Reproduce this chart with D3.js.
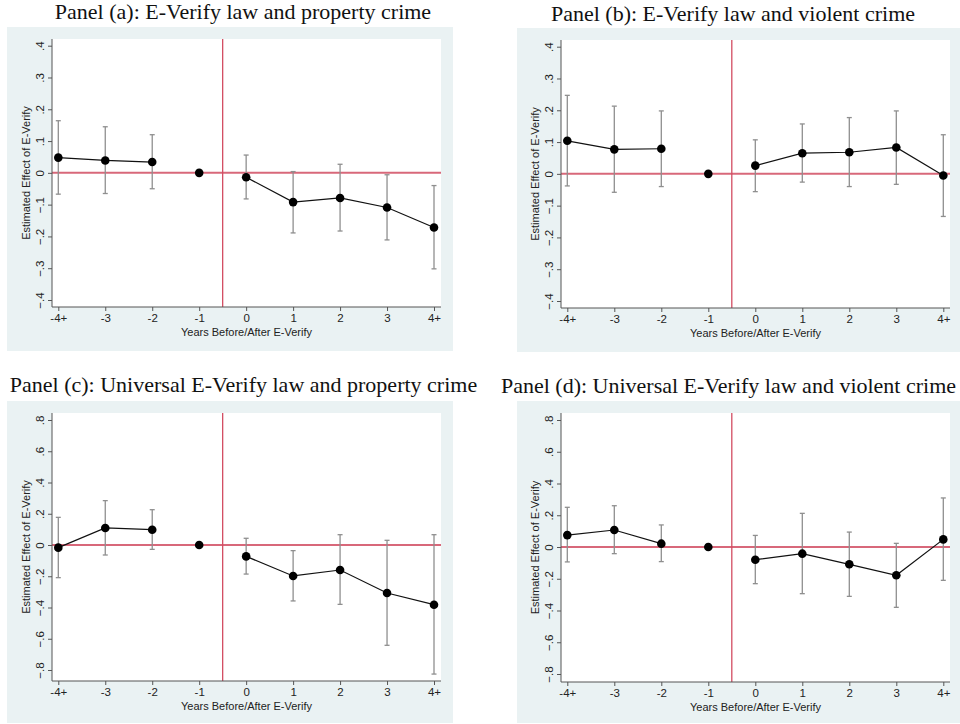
<!DOCTYPE html>
<html>
<head>
<meta charset="utf-8">
<script src="https://cdn.jsdelivr.net/npm/d3@7"></script>
<style>
  html, body { margin: 0; padding: 0; background: #fff; }
  svg { display: block; }
</style>
</head>
<body>
<div id="chart"></div>
<script>
// event-time categories
const categories = ['-4+', '-3', '-2', '-1', '0', '1', '2', '3', '4+'];
const yTicksSmall = [-0.4, -0.3, -0.2, -0.1, 0, 0.1, 0.2, 0.3, 0.4];
const yTicksLarge = [-0.8, -0.6, -0.4, -0.2, 0, 0.2, 0.4, 0.6, 0.8];

// Panel (a): E-Verify law and property crime
const estA   = [0.048, 0.039, 0.034, 0, -0.014, -0.092, -0.079, -0.109, -0.172];
const lowerA = [-0.067, -0.065, -0.050, null, -0.082, -0.189, -0.183, -0.211, -0.302];
const upperA = [0.164, 0.145, 0.120, null, 0.056, 0.004, 0.027, -0.006, -0.040];

// Panel (b): E-Verify law and violent crime
const estB   = [0.104, 0.077, 0.079, 0, 0.026, 0.065, 0.068, 0.083, -0.005];
const lowerB = [-0.038, -0.058, -0.040, null, -0.056, -0.026, -0.040, -0.033, -0.134];
const upperB = [0.247, 0.213, 0.198, null, 0.107, 0.157, 0.177, 0.198, 0.123];

// Panel (c): Universal E-Verify law and property crime
const estC   = [-0.017, 0.109, 0.098, 0, -0.073, -0.198, -0.160, -0.307, -0.382];
const lowerC = [-0.209, -0.064, -0.028, null, -0.186, -0.358, -0.380, -0.642, -0.826];
const upperC = [0.177, 0.284, 0.226, null, 0.043, -0.036, 0.066, 0.030, 0.066];

// Panel (d): Universal E-Verify law and violent crime
const estD   = [0.075, 0.107, 0.021, 0, -0.080, -0.042, -0.109, -0.178, 0.048];
const lowerD = [-0.094, -0.042, -0.092, null, -0.231, -0.294, -0.311, -0.380, -0.210];
const upperD = [0.250, 0.260, 0.139, null, 0.073, 0.212, 0.094, 0.023, 0.309];

const titles = [
    'Panel (a): E-Verify law and property crime',
    'Panel (b): E-Verify law and violent crime',
    'Panel (c): Universal E-Verify law and property crime',
    'Panel (d): Universal E-Verify law and violent crime'
];

const width = 960;
const height = 724;

const svg = d3.select('#chart')
    .append('svg')
    .attr('width', width)
    .attr('height', height);

// layout of each panel in pixels
const panels = [
    { title: titles[0], est: estA, lo: lowerA, hi: upperA, ticks: yTicksSmall, dom: [-0.4, 0.4],
      bg: [7, 27, 453, 351], plot: [52, 39, 441, 307], xr: [58.3, 434], yr: [300, 45.7], tx: 243, ty: 19 },
    { title: titles[1], est: estB, lo: lowerB, hi: upperB, ticks: yTicksSmall, dom: [-0.4, 0.4],
      bg: [517, 28, 960, 352], plot: [561, 40, 950, 308], xr: [567.3, 943.3], yr: [301, 46.7], tx: 733, ty: 21 },
    { title: titles[2], est: estC, lo: lowerC, hi: upperC, ticks: yTicksLarge, dom: [-0.8, 0.8],
      bg: [7, 401, 453, 723], plot: [52, 413, 441, 681], xr: [58.3, 434], yr: [670, 420], tx: 243.5, ty: 392 },
    { title: titles[3], est: estD, lo: lowerD, hi: upperD, ticks: yTicksLarge, dom: [-0.8, 0.8],
      bg: [517, 401, 960, 723], plot: [561, 413, 950, 682], xr: [567.3, 943.3], yr: [674, 420], tx: 728.5, ty: 393 }
];

const fmt = d => d === 0 ? '0' : d3.format('.1f')(d).replace('0.', '.');
const sans = '"Liberation Sans", Arial, sans-serif';

panels.forEach(p => drawPanel(p));

function drawPanel(p) {
    const g = svg.append('g');

    g.append('text')
        .attr('x', p.tx)
        .attr('y', p.ty)
        .attr('text-anchor', 'middle')
        .attr('font-family', '"Liberation Serif", "Times New Roman", serif')
        .attr('font-size', '22px')
        .attr('fill', '#111')
        .text(p.title);

    g.append('rect')
        .attr('x', p.bg[0]).attr('y', p.bg[1])
        .attr('width', p.bg[2] - p.bg[0]).attr('height', p.bg[3] - p.bg[1])
        .attr('fill', '#eaf2f3');

    g.append('rect')
        .attr('x', p.plot[0]).attr('y', p.plot[1])
        .attr('width', p.plot[2] - p.plot[0]).attr('height', p.plot[3] - p.plot[1])
        .attr('fill', '#fff');

    const x = d3.scalePoint()
        .domain(categories)
        .range(p.xr);

    const y = d3.scaleLinear()
        .domain(p.dom)
        .range(p.yr);

    const step = x.step();

    // reference lines
    g.append('line')
        .attr('x1', p.plot[0]).attr('x2', p.plot[2])
        .attr('y1', y(0)).attr('y2', y(0))
        .attr('stroke', '#d8687a')
        .attr('stroke-width', 2);

    g.append('line')
        .attr('x1', x('-1') + step / 2).attr('x2', x('-1') + step / 2)
        .attr('y1', p.plot[1]).attr('y2', p.plot[3])
        .attr('stroke', '#d34d62')
        .attr('stroke-width', 1.3);

    const rows = categories.map((c, i) => ({ cat: c, est: p.est[i], lo: p.lo[i], hi: p.hi[i] }));
    const bars = rows.filter(d => d.lo !== null);

    // confidence intervals
    const ci = g.append('g').attr('stroke', '#8f8f8f').attr('stroke-width', 1.3);
    ci.selectAll('line.v')
        .data(bars)
        .join('line')
        .attr('class', 'v')
        .attr('x1', d => x(d.cat)).attr('x2', d => x(d.cat))
        .attr('y1', d => y(d.lo)).attr('y2', d => y(d.hi));
    ci.selectAll('line.top')
        .data(bars)
        .join('line')
        .attr('class', 'top')
        .attr('x1', d => x(d.cat) - 2.5).attr('x2', d => x(d.cat) + 2.5)
        .attr('y1', d => y(d.hi)).attr('y2', d => y(d.hi));
    ci.selectAll('line.bot')
        .data(bars)
        .join('line')
        .attr('class', 'bot')
        .attr('x1', d => x(d.cat) - 2.5).attr('x2', d => x(d.cat) + 2.5)
        .attr('y1', d => y(d.lo)).attr('y2', d => y(d.lo));

    // connecting lines: pre-period and post-period separately
    const line = d3.line().x(d => x(d.cat)).y(d => y(d.est));
    const pre = rows.slice(0, 3);
    const post = rows.slice(4);
    [pre, post].forEach(seg => {
        g.append('path')
            .datum(seg)
            .attr('d', line)
            .attr('fill', 'none')
            .attr('stroke', '#111')
            .attr('stroke-width', 1.2);
    });

    g.selectAll('circle')
        .data(rows)
        .join('circle')
        .attr('cx', d => x(d.cat))
        .attr('cy', d => y(d.est))
        .attr('r', 4.3)
        .attr('fill', '#000');

    // axes
    const yAxis = g.append('g')
        .attr('transform', `translate(${p.plot[0]},0)`)
        .call(d3.axisLeft(y).tickValues(p.ticks).tickFormat(fmt).tickSizeOuter(0).tickSize(4));
    yAxis.select('.domain')
        .attr('d', `M0,${p.plot[1]}V${p.plot[3]}`)
        .attr('stroke', '#555');
    yAxis.selectAll('.tick line').attr('stroke', '#555');
    yAxis.selectAll('.tick text')
        .attr('font-family', sans)
        .attr('font-size', '11.5px')
        .attr('fill', '#222')
        .attr('x', null)
        .attr('dy', null)
        .attr('text-anchor', 'middle')
        .attr('transform', 'translate(-8.5,0) rotate(-90)');

    const xAxis = g.append('g')
        .attr('transform', `translate(0,${p.plot[3]})`)
        .call(d3.axisBottom(x).tickSizeOuter(0).tickSize(4));
    xAxis.select('.domain')
        .attr('d', `M${p.plot[0]},0H${p.plot[2]}`)
        .attr('stroke', '#555');
    xAxis.selectAll('.tick line').attr('stroke', '#555');
    xAxis.selectAll('.tick text')
        .attr('font-family', sans)
        .attr('font-size', '11.5px')
        .attr('fill', '#222')
        .attr('y', 7);

    g.append('text')
        .attr('x', (p.plot[0] + p.plot[2]) / 2)
        .attr('y', p.plot[3] + 29)
        .attr('text-anchor', 'middle')
        .attr('font-family', sans)
        .attr('font-size', '11px')
        .attr('fill', '#222')
        .text('Years Before/After E-Verify');

    g.append('text')
        .attr('transform', `translate(${p.plot[0] - 22},${(p.plot[1] + p.plot[3]) / 2}) rotate(-90)`)
        .attr('text-anchor', 'middle')
        .attr('font-family', sans)
        .attr('font-size', '11px')
        .attr('fill', '#222')
        .text('Estimated Effect of E-Verify');
}
</script>
</body>
</html>
